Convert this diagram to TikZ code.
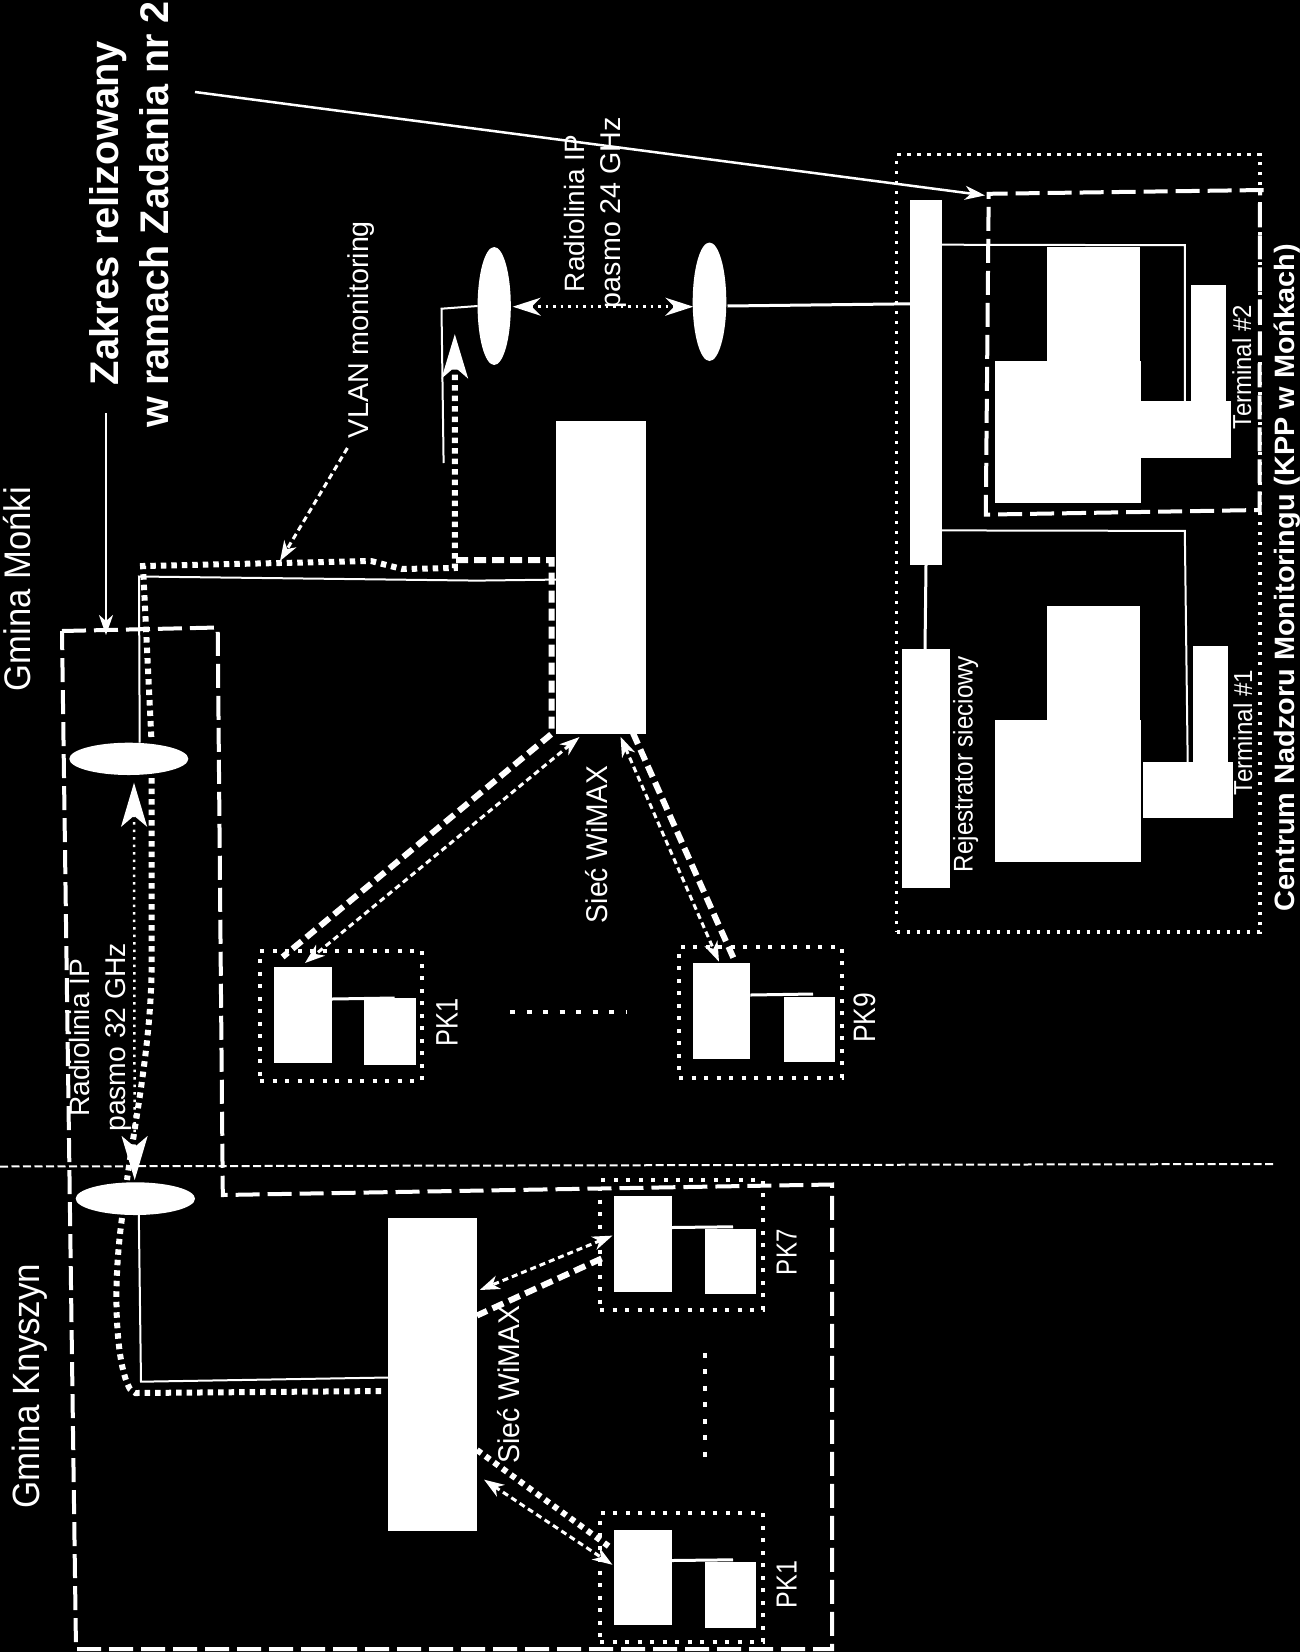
\documentclass[tikz,border=0pt]{standalone}
\usepackage{fontspec}
\setmainfont{Liberation Sans}
\usetikzlibrary{shapes.geometric,arrows.meta}
\newsavebox\lblbox
\newcommand\bx[5]{\node[wbox,minimum width={#4pt-#2pt},minimum height={#5pt-#3pt}] (#1) at ({(#2+#4)/2},{(#3+#5)/2}) {};}
\newcommand\ant[5]{\node[antenna,minimum width={#4pt-#2pt},minimum height={#5pt-#3pt}] (#1) at ({(#2+#4)/2},{(#3+#5)/2}) {};}
\newcommand\frm[6]{\node[#6,minimum width={#4pt-#2pt},minimum height={#5pt-#3pt}] (#1) at ({(#2+#4)/2},{(#3+#5)/2}) {};}
% name, x of baseline, y of start, size, length, font switch, text
\newcommand\lbl[7]{\node[txt] (#1) at (#2,#3) {\sbox\lblbox{\fontsize{#4}{#4}\selectfont#6#7}%
  \pgfmathsetmacro\lblscale{#5/\the\wd\lblbox}%
  \scalebox{\lblscale}[1]{\usebox\lblbox}};}
\tikzset{
  wbox/.style={rectangle,fill=white,draw=none,inner sep=0pt,outer sep=0pt},
  antenna/.style={ellipse,fill=white,draw=none,inner sep=0pt,outer sep=0pt},
  txt/.style={rotate=90,anchor=base west,inner sep=0pt,outer sep=0pt,text=white},
  tipS/.tip={Stealth[length=20pt,width=14pt,inset=6pt]},
  tipM/.tip={Stealth[length=28pt,width=18pt,inset=9pt]},
  tipL/.tip={Stealth[length=44pt,width=26pt,inset=11pt]},
  wire/.style={draw=white,line width=2pt},
  wireb/.style={draw=white,line width=3pt},
  pointer/.style={draw=white,line width=2.5pt,-tipS},
  dotline/.style={draw=white,line width=6pt,dash pattern=on 5.5pt off 5pt},
  dashline/.style={draw=white,line width=6pt,dash pattern=on 12pt off 6pt},
  smalldash/.style={draw=white,line width=3pt,dash pattern=on 6pt off 4pt},
  radiodot/.style={draw=white,line width=2.5pt,dash pattern=on 2.5pt off 5pt},
  zone/.style={draw=white,line width=4pt,dash pattern=on 24pt off 8pt},
  border/.style={draw=white,line width=2pt,dash pattern=on 8pt off 3.5pt},
  pkframe/.style={rectangle,draw=white,line width=4pt,dash pattern=on 4pt off 8.5pt,inner sep=0pt,outer sep=0pt},
  cnmframe/.style={rectangle,draw=white,line width=3.5pt,dash pattern=on 3.5pt off 6.5pt,inner sep=0pt,outer sep=0pt},
  dotrow/.style={draw=white,line width=4.5pt,dash pattern=on 5pt off 11.5pt},
}
\begin{document}
\begin{tikzpicture}[x=1pt,y=-1pt]
\useasboundingbox (0,0) rectangle (1300,1652);
\clip (0,0) rectangle (1300,1652);
\fill[black] (0,0) rectangle (1300,1652);

% frames
\frm{frCNM}{896.7}{154.7}{1260}{932}{cnmframe}
\frm{frPKa}{260}{950.7}{422}{1080.7}{pkframe}
\frm{frPKb}{679}{947}{841.5}{1077.7}{pkframe}
\frm{frPKc}{600}{1179.6}{762.6}{1309.5}{pkframe}
\frm{frPKd}{600}{1512.7}{762.6}{1642}{pkframe}

% zones
\coordinate (zA) at (62,631);
\coordinate (zB) at (217.7,627.5);
\coordinate (zC) at (222.8,1195);
\coordinate (zD) at (832,1184.5);
\coordinate (zE) at (832,1649);
\coordinate (zF) at (76,1649);
\draw[zone] (zA) -- (zB) -- (zC) -- (zD) -- (zE) -- (zF) -- cycle;
\coordinate (tA) at (1263.6,190);
\coordinate (tB) at (988.7,193.8);
\coordinate (tC) at (985.8,514.6);
\coordinate (tD) at (1259.5,510);
\coordinate (tE) at (1260,190);
\draw[zone] (tA) -- (tB) -- (tC) -- (tD) -- (tE);

% border between communes
\coordinate (divL) at (0,1166.5);
\coordinate (divR) at (1275,1164);
\draw[border] (divL) -- (divR);

% equipment
\ant{antA}{477.6}{247}{510.8}{365}
\ant{antB}{692.7}{242.5}{726.3}{361}
\ant{antC}{69.3}{742.7}{188.3}{775}
\ant{antD}{75.7}{1182.3}{195}{1215}
\bx{bsM}{556}{421}{645.5}{734}
\bx{bsK}{388}{1218}{477}{1531}
\bx{sw}{910}{199.7}{942}{565}
\bx{rec}{902}{649}{950}{887.5}
% terminal 2
\bx{tbA}{1046.8}{247.4}{1140}{361}
\bx{tbB}{994.5}{361}{1140.9}{503}
\bx{tbC}{1140.9}{401.4}{1230.8}{457.7}
\bx{tbD}{1191}{285.4}{1226.3}{401.4}
% terminal 1
\bx{taA}{1046.8}{606.2}{1140}{720}
\bx{taB}{994.5}{720}{1140.9}{862}
\bx{taC}{1143}{762.3}{1232.5}{818}
\bx{taD}{1192.7}{646.3}{1228.4}{762.3}
% cameras
\bx{pkaA}{274}{967}{332}{1062.7}
\bx{pkaB}{364}{998}{416}{1065}
\bx{pkbA}{693}{963.3}{750.4}{1059.3}
\bx{pkbB}{783.5}{996.7}{834.8}{1061.7}
\bx{pkcA}{614}{1195.8}{672}{1291.5}
\bx{pkcB}{704.6}{1229}{755.6}{1293.7}
\bx{pkdA}{614}{1529.6}{672}{1624.6}
\bx{pkdB}{704.6}{1562.3}{755.6}{1627.5}

% thin wires
\coordinate (wA) at (441.5,308.7);
\coordinate (wB) at (443.6,463);
\coordinate (wAs) at (477.6,306);
\draw[wire] (wAs) -- (wA) -- (wB);
\coordinate (wC) at (139.7,742.7);
\coordinate (wD) at (139,576.5);
\coordinate (wE) at (477,580.6);
\coordinate (wF) at (556,579.6);
\draw[wire] (wC) -- (wD) -- (wE) -- (wF);
\coordinate (wG) at (138.8,1215);
\coordinate (wH) at (141,1381.7);
\coordinate (wI) at (388,1377.5);
\draw[wire] (wG) -- (wH) -- (wI);
\coordinate (sB) at (910,303.8);
\coordinate (aB) at (727.5,306);
\draw[wireb] (aB) -- (sB);
\coordinate (s1) at (942,244.7);
\coordinate (s2) at (1184.8,245.2);
\coordinate (s3) at (1184.8,401.4);
\draw[wire] (s1) -- (s2) -- (s3);
\coordinate (s4) at (942,530.4);
\coordinate (s5) at (1184.8,530.9);
\coordinate (s6) at (1187.7,762.3);
\draw[wire] (s4) -- (s5) -- (s6);
\coordinate (s7) at (926,565);
\coordinate (s8) at (925,649);
\draw[wireb] (s7) -- (s8);

% camera links
\coordinate (pa1) at (332,999);\coordinate (pa2) at (394.6,998);\draw[wireb] (pa1) -- (pa2);
\coordinate (pb1) at (750.4,995);\coordinate (pb2) at (813,994);\draw[wireb] (pb1) -- (pb2);
\coordinate (pc1) at (672,1227.5);\coordinate (pc2) at (733,1226.8);\draw[wireb] (pc1) -- (pc2);
\coordinate (pd1) at (672,1560.5);\coordinate (pd2) at (733,1559.8);\draw[wireb] (pd1) -- (pd2);

% VLAN monitoring path
\coordinate (v1) at (151.3,737);
\coordinate (v2) at (143,566);
\coordinate (v3) at (371,561);
\coordinate (v4) at (402,569);
\coordinate (v5) at (454.8,568);
\coordinate (v6) at (454.8,334);
\draw[dotline,-tipL] (v1) -- (v2) -- (v3) -- (v4) -- (v5) -- (v6);
\coordinate (v7) at (151.7,778);
\coordinate (v8) at (151.7,960);
\coordinate (v9) at (127,1180);
\draw[dotline] (v7) -- (v8) .. controls (151.7,1040) and (136,1115) .. (v9);
\coordinate (k1) at (122,1218);
\coordinate (k2) at (130,1389);
\coordinate (k3) at (135.5,1393);
\coordinate (k4) at (386,1391);
\draw[dotline] (k1) .. controls (112,1290) and (116,1365) .. (k2) -- (k3) -- (k4);

% thick dashed paths
\coordinate (d1) at (456,560);
\coordinate (d2) at (551.5,560);
\coordinate (d3) at (551.5,734);
\coordinate (d4) at (282.6,957);
\draw[dashline] (d1) -- (d2) -- (d3) -- (d4);
\coordinate (d5) at (633,733);
\coordinate (d6) at (735.7,963);
\draw[dashline] (d5) -- (d6);
\coordinate (d7) at (601.6,1258.5);
\coordinate (d8) at (477,1315.5);
\draw[dashline] (d7) -- (d8);
\coordinate (d9) at (477,1450);
\coordinate (d10) at (612.5,1549);
\draw[dotline] (d9) -- (d10);

% thin dashed double arrows
\coordinate (e1) at (579.5,737);\coordinate (e2) at (305,963);
\draw[smalldash,tipS-tipS] (e1) -- (e2);
\coordinate (e3) at (620.5,736.7);\coordinate (e4) at (719,961.7);
\draw[smalldash,tipS-tipS] (e3) -- (e4);
\coordinate (e5) at (612.5,1235.6);\coordinate (e6) at (479.7,1290);
\draw[smalldash,tipS-tipS] (e5) -- (e6);
\coordinate (e7) at (484,1479.6);\coordinate (e8) at (612.5,1564.8);
\draw[smalldash,tipS-tipS] (e7) -- (e8);

% radio links
\coordinate (r1) at (512.7,306.7);\coordinate (r2) at (693.3,306.7);
\draw[radiodot,tipM-tipM] (r1) -- (r2);
\coordinate (r3) at (134,782.7);\coordinate (r4) at (134.7,1180);
\draw[radiodot,tipL-tipL] (r3) -- (r4);

% pointers
\coordinate (q1) at (195,92);\coordinate (q2) at (985,195.4);
\draw[pointer] (q1) -- (q2);
\coordinate (q3) at (106,413);\coordinate (q4) at (106,635);
\draw[pointer] (q3) -- (q4);
\coordinate (q5) at (347.4,448);\coordinate (q6) at (280,561);
\draw[smalldash,-tipS] (q5) -- (q6);

% dots between cameras
\coordinate (o1) at (510,1012);\coordinate (o2) at (626,1012);
\draw[dotrow] (o1) -- (o2);
\coordinate (o3) at (705,1352.8);\coordinate (o4) at (705,1468);
\draw[dotrow] (o3) -- (o4);

% labels
\lbl{tZakres}{118}{385}{40}{344}{\bfseries}{Zakres relizowany}
\lbl{tRamach}{168}{427.5}{40}{426.5}{\bfseries}{w ramach Zadania nr 2}
\lbl{tMonki}{30}{691}{37}{204}{}{Gmina Mońki}
\lbl{tKnysz}{39}{1508.5}{38}{245}{}{Gmina Knyszyn}
\lbl{tR24}{584.6}{292}{28}{157}{}{Radiolinia IP}
\lbl{tP24}{620.6}{308}{28.6}{191}{}{pasmo 24 GHz}
\lbl{tR32}{89}{1116.7}{28}{158}{}{Radiolinia IP}
\lbl{tP32}{125}{1131.7}{28.6}{188.7}{}{pasmo 32 GHz}
\lbl{tVlan}{368}{438}{28.7}{217}{}{VLAN monitoring}
\lbl{tWiA}{607.6}{923}{30}{157}{}{Sieć WiMAX}
\lbl{tWiB}{519}{1463.7}{30}{158}{}{Sieć WiMAX}
\lbl{tPKa}{457.6}{1046}{31}{48}{}{PK1}
\lbl{tPKb}{875.4}{1042.7}{31}{50}{}{PK9}
\lbl{tPKc}{796.7}{1275}{29}{45.4}{}{PK7}
\lbl{tPKd}{796.7}{1608}{29}{47.4}{}{PK1}
\lbl{tRej}{972.5}{872}{27}{216}{}{Rejestrator sieciowy}
\lbl{tT2}{1251}{429}{26}{124}{}{Terminal \#2}
\lbl{tT1}{1252}{795}{26}{125}{}{Terminal \#1}
\lbl{tCNM}{1294}{911}{28}{667}{\bfseries}{Centrum Nadzoru Monitoringu (KPP w Mońkach)}
\end{tikzpicture}
\end{document}
